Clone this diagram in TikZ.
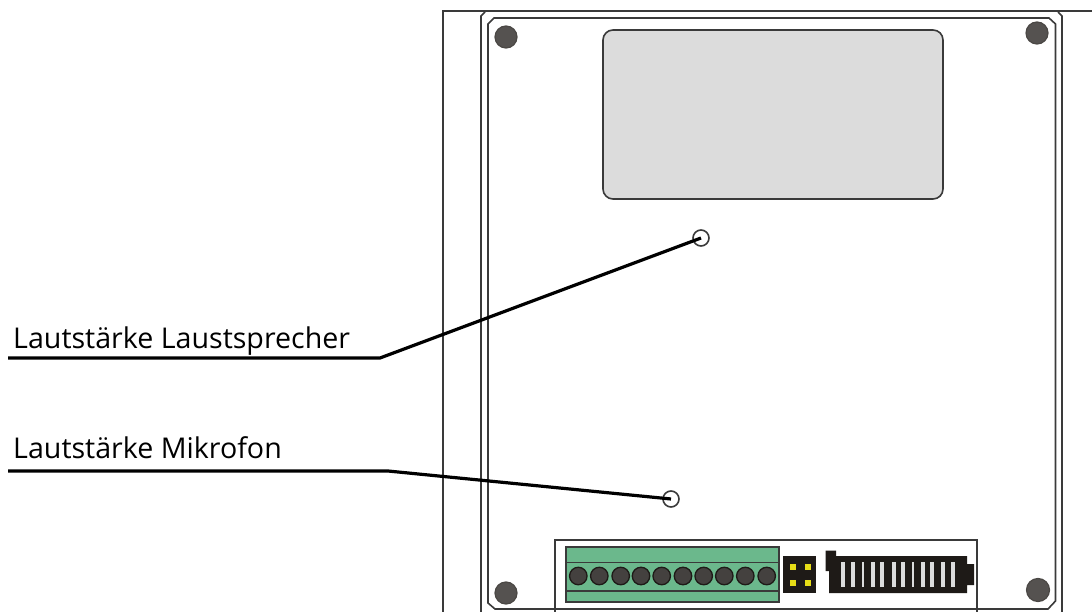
\documentclass[tikz,border=0pt]{standalone}
\usepackage{fontspec}
\setmainfont{Open Sans}
\definecolor{ln}{HTML}{3A3A3A}
\definecolor{scr}{HTML}{555250}
\definecolor{grn}{HTML}{6BB88C}
\definecolor{blk}{HTML}{1E1A17}
\definecolor{plate}{HTML}{DCDCDC}
\tikzset{
  panel/.style={draw=ln,line width=1.6pt},
  screw/.style={circle,draw=blk!80,line width=1.2pt,fill=scr,inner sep=0pt,minimum size=#1},
  term/.style={circle,draw=blk,line width=1.3pt,fill=scr!110!white,inner sep=0pt,minimum size=17.5pt},
  pot/.style={circle,draw=ln,line width=1.6pt,inner sep=0pt,minimum size=16pt},
  leader/.style={draw=black,line width=3.2pt},
  lbl/.style={anchor=base west,inner sep=0pt,font=\fontsize{28.6pt}{30pt}\selectfont,text=black},
  pin/.style={fill=yellow!90!black,draw=none},
  slot/.style={fill=plate,draw=none}
}
\begin{document}
\begin{tikzpicture}[x=1pt,y=-1pt]
\useasboundingbox (0,0) rectangle (1092,612);
\fill[white] (0,0) rectangle (1092,612);
% housing
\draw[panel] (443,612) -- (443,11) -- (1092,11);
\draw[panel] (481,612) -- (481,16) -- (485,12);
\draw[panel] (1062,612) -- (1062,16) -- (1058,12);
\draw[panel] (495,609) -- (488,603) -- (488,24) -- (494,18) -- (1049,18) -- (1055.5,24) -- (1055.5,601) -- (1048,609) -- cycle;
% plate
\draw[panel,fill=plate,rounded corners=10pt] (603,30) rectangle (943,199);
% screws
\node[screw=22pt] (s1) at (506,37) {};
\node[screw=22pt] (s2) at (1037,33) {};
\node[screw=22pt] (s3) at (506,593) {};
\node[screw=23pt] (s4) at (1038,590) {};
% connector box
\draw[panel] (555,612) -- (555,540) -- (977,540) -- (977,612);
% terminal
\draw[draw=ln,line width=1.4pt,fill=grn] (566,547) rectangle (779,602);
\draw[ln,line width=1.7pt] (566,562.5) -- (779,562.5);
\draw[ln,line width=1.7pt] (566,591) -- (779,591);
\foreach \n/\x in {1/578.3,2/599.3,3/620.7,4/641,5/661.7,6/683,7/703.7,8/724.3,9/745.3,10/766.7}
  \node[term] (t\n) at (\x,576) {};
% jumper
\fill[blk] (783,556) rectangle (816,593);
\foreach \x in {793,808} \foreach \y in {566.5,583}
  \fill[pin] (\x-3,\y-3) rectangle (\x+3,\y+3);
% dark connector
\fill[blk] (825.5,550.5) -- (836,550.5) -- (836,556) -- (967,556) -- (967,564) -- (974,564) -- (974,585) -- (967,585) -- (967,593) -- (829,593) -- (829,571) -- (825.5,571) -- cycle;
\foreach \x/\w in {843.3/4,852.7/4,863/2.5,873.3/4,882.3/4,893.7/4,902.7/4,913/2.5,923/4,932.3/4,943.3/4,952.7/4}
  \fill[slot] (\x-\w/2,562) rectangle (\x+\w/2,587);
% pots
\node[pot] (p1) at (701,238) {};
\node[pot] (p2) at (671,499) {};
% labels
\node[lbl] (l1) at (13,348) {Lautstärke Laustsprecher};
\node[lbl] (l2) at (13,458) {Lautstärke Mikrofon};
\coordinate (a1) at (8,358);
\coordinate (b1) at (380,358);
\coordinate (a2) at (8,471);
\coordinate (b2) at (388,471);
\draw[leader] (a1) -- (b1) -- (p1.center);
\draw[leader] (a2) -- (b2) -- (p2.center);
\end{tikzpicture}
\end{document}
